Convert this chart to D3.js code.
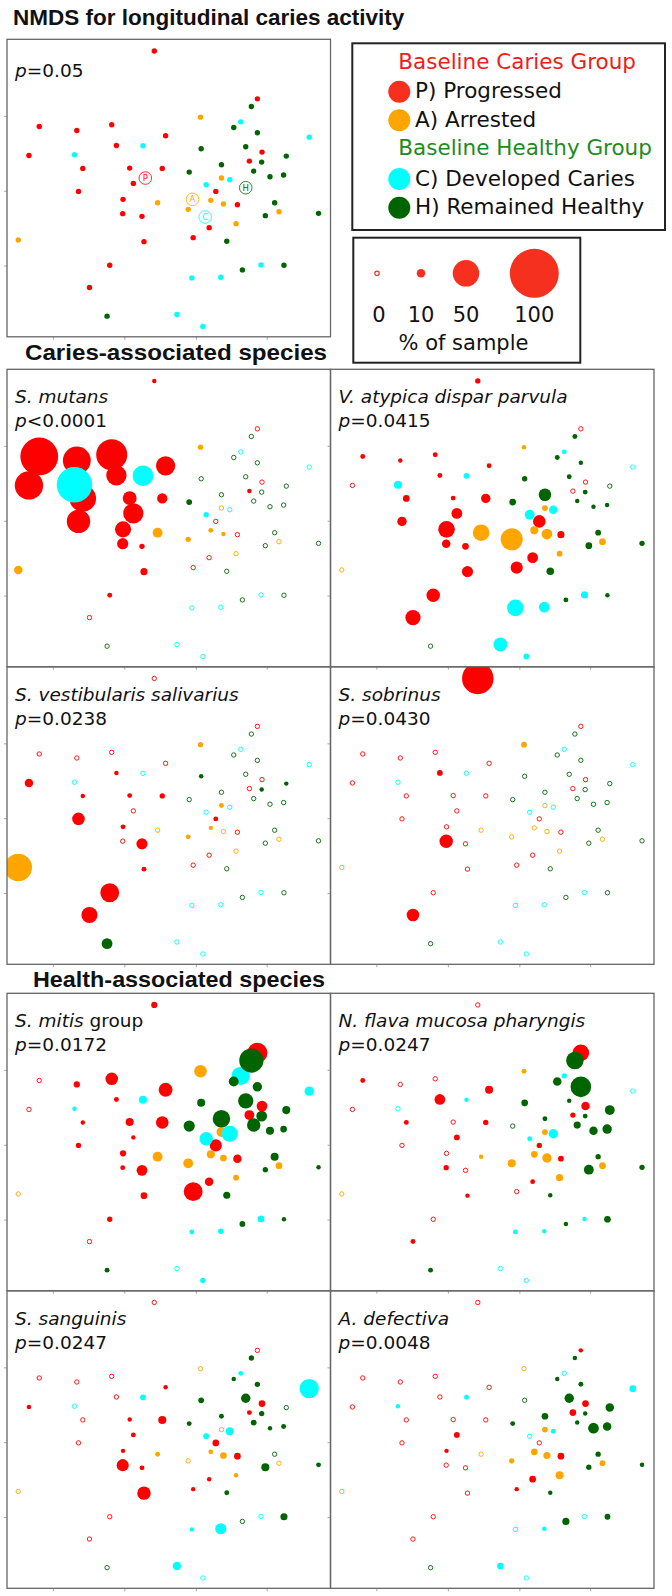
<!DOCTYPE html>
<html>
<head>
<meta charset="utf-8">
<script src="https://cdn.jsdelivr.net/npm/d3@7"></script>
<style>
body { margin: 0; background: #fff; }
svg text { font-family: "DejaVu Sans", sans-serif; fill: #111; }
svg text.heading { font-family: "Liberation Sans", Arial, sans-serif; font-weight: bold; }
</style>
</head>
<body>
<script>
(function(){

//group of each sample (P, A, C, H)
var outcome = ("PPPPPPPPPP" + "PPPPPPPPPP" + "PPPPP" +
               "AAAAAAAAA" +
               "CCCCCCCCCC" + "C" +
               "HHHHHHHHHH" + "HHHHHHHHH").split("");

//NMDS coordinates
var nmds1 = [-0.086, 0.534, -0.778, -0.552, -0.342, -0.018, -0.314, -0.84, -0.516, -0.234,
             -0.038, -0.212, -0.542, 0.562, 0.486, 0.284, -0.274, 0.414, -0.276, -0.16,
             0.244, 0.148, -0.148, -0.354, -0.476,
             0.192, 0.318, -0.066, 0.254, 0.33, 0.118, 0.664, 0.406, -0.904,
             0.434, 0.846, -0.154, -0.566, 0.226, 0.368, 0.556, 0.14, 0.314, 0.05, 0.206,
             0.498, 0.392, 0.534, 0.196, 0.464, 0.708, 0.56, 0.318, 0.124, 0.512,
             0.61, 0.692, 0.638, 0.902, 0.582, 0.35, 0.444, 0.694, -0.37];
var nmds2 = [0.824, 0.536, 0.37, 0.346, 0.38, 0.314, 0.256, 0.196, 0.118, 0.12,
             0.118, 0.028, -0.02, 0.216, 0.162, -0.02, -0.068, -0.1, -0.154, -0.17,
             -0.238, -0.298, -0.322, -0.464, -0.598,
             0.426, 0.06, -0.088, -0.074, -0.096, -0.128, -0.142, -0.214, -0.312,
             0.398, 0.306, 0.254, 0.2, 0.02, 0.05, -0.462, -0.54, -0.536, -0.76, -0.832,
             0.49, 0.364, 0.332, 0.236, 0.248, 0.192, 0.156, 0.14, 0.096, 0.102,
             0.068, 0.078, -0.088, -0.152, -0.166, -0.32, -0.492, -0.464, -0.77];

//group centroids
var groupKeys = ["P", "A", "C", "H"];
var centroid1 = [-0.14, 0.144, 0.22, 0.464];
var centroid2 = [0.06, -0.068, -0.174, 0.002];

//axis ticks (unlabelled)
var xTicks = [-0.696, -0.266, 0.164, 0.59];
var yTicks = [0.434, -0.016, -0.466];

//% of sample for each species, same sample order as above
var sMutans = [1, 0, 75, 53, 60, 34, 36, 54, 50, 22, 14, 36, 43, 0, 1, 0, 27, 0, 16, 3, 0, 0, 7, 2, 0,
               3, 0, 13, 2, 1, 3, 0, 0, 10,
               0, 0, 37, 70, 3, 0, 0, 0, 0, 0, 0,
               0, 0, 0, 0, 0, 0, 0, 0, 4, 0, 0, 0, 0, 0, 0, 0, 0, 0, 0];
var vAtypica = [3, 0, 2, 1, 2, 2, 2, 0, 6, 2, 12, 15, 12, 0, 0, 19, 28, 7, 10, 6, 15, 18, 16, 21, 25,
                1, 4, 28, 9, 15, 40, 6, 4, 0,
                2, 0, 4, 9, 13, 10, 7, 28, 15, 22, 4,
                2, 2, 1, 3, 2, 0, 2, 19, 6, 1, 1, 1, 4, 3, 6, 8, 2, 1, 0];
var sVestibularis = [0, 0, 0, 0, 0, 0, 1, 10, 1, 2, 3, 0, 19, 0, 0, 2, 2, 0, 0, 16, 0, 0, 2, 33, 27,
                     3, 2, 0, 1, 0, 2, 0, 0, 52,
                     0, 0, 0, 0, 0, 0, 0, 0, 0, 0, 0,
                     0, 0, 0, 1, 0, 1, 1, 0, 0, 0, 0, 0, 0, 0, 0, 0, 0, 0, 15];
var sSobrinus = [61, 0, 0, 0, 0, 0, 4, 0, 0, 0, 0, 0, 0, 0, 0, 0, 0, 0, 21, 0, 0, 0, 0, 0, 19,
                 4, 0, 0, 0, 0, 0, 0, 0, 0,
                 0, 0, 0, 0, 0, 0, 0, 0, 0, 0, 0,
                 0, 0, 0, 0, 0, 0, 0, 0, 0, 0, 0, 0, 0, 0, 0, 0, 0, 0, 0];
var sMitis = [5, 36, 0, 5, 19, 22, 2, 0, 1, 9, 19, 1, 3, 15, 13, 18, 5, 10, 2, 15, 10, 33, 6, 3, 0,
              19, 13, 13, 9, 6, 13, 6, 4, 0,
              32, 12, 9, 1, 21, 27, 6, 2, 3, 0, 3,
              45, 13, 12, 9, 25, 9, 15, 30, 16, 21, 9, 6, 9, 1, 3, 7, 4, 1, 2];
var nFlava = [0, 28, 2, 0, 0, 9, 15, 0, 2, 0, 3, 4, 0, 10, 3, 3, 0, 4, 3, 0, 2, 0, 1, 0, 2,
              2, 4, 1, 6, 12, 9, 6, 7, 0,
              3, 0, 1, 0, 2, 12, 1, 2, 1, 0, 0,
              30, 10, 37, 6, 1, 13, 2, 2, 0, 7, 10, 12, 3, 3, 13, 1, 1, 6, 2];
var sSanguinis = [0, 0, 0, 0, 0, 1, 0, 1, 0, 1, 9, 2, 0, 6, 2, 6, 1, 6, 18, 2, 1, 1, 21, 0, 0,
                  0, 0, 2, 2, 6, 0, 0, 1, 0,
                  2, 34, 4, 0, 4, 9, 0, 1, 16, 10, 0,
                  3, 1, 3, 4, 12, 0, 3, 2, 2, 4, 1, 2, 0, 2, 9, 2, 0, 7, 0];
var aDefectiva = [0, 1, 0, 0, 0, 0, 0, 0, 0, 0, 0, 4, 0, 6, 6, 0, 1, 6, 0, 0, 6, 1, 0, 0, 0,
                  0, 4, 0, 6, 7, 3, 4, 9, 0,
                  0, 6, 2, 1, 0, 2, 0, 0, 1, 6, 0,
                  1, 1, 2, 0, 12, 10, 1, 6, 2, 1, 15, 10, 3, 1, 3, 1, 7, 4, 0];

var speciesValues = [sMutans, vAtypica, sVestibularis, sSobrinus, sMitis, nFlava, sSanguinis, aDefectiva];
var speciesNames = ["S. mutans", "V. atypica dispar parvula", "S. vestibularis salivarius", "S. sobrinus",
                    "S. mitis", "N. flava mucosa pharyngis", "S. sanguinis", "A. defectiva"];
var speciesSuffix = ["", "", "", "", " group", "", "", ""];
var speciesP = ["<0.0001", "=0.0415", "=0.0238", "=0.0430", "=0.0172", "=0.0247", "=0.0247", "=0.0048"];
var overallP = "=0.05";

//legend text
var legendHeads = ["Baseline Caries Group", "Baseline Healthy Group"];
var legendLabels = ["P) Progressed", "A) Arrested", "C) Developed Caries", "H) Remained Healthy"];
var sizeValues = [0, 10, 50, 100];

//page layout
var panelW = 323.5,
    panelH = 297.5;

var svg = d3.select("body")
    .append("svg")
    .attr("width", 672)
    .attr("height", 1596)
    .style("display", "block");

//scales shared by all panels
var xScale = d3.scaleLinear()
    .domain([-0.972, 0.974])
    .range([0, panelW]);
var yScale = d3.scaleLinear()
    .domain([-0.894, 0.894])
    .range([panelH, 0]);
var rScale = d3.scaleLinear()
    .domain([0, 100])
    .range([2, 24.5]);
var colorScale = d3.scaleOrdinal()
    .domain(groupKeys)
    .range(["#ff0000", "#ffa500", "#00ffff", "#006400"]);
var legendRed = "#f5301f";

//titles
svg.append("text")
    .attr("class", "heading")
    .attr("x", 13)
    .attr("y", 24.5)
    .style("font-size", "22.5px")
    .text("NMDS for longitudinal caries activity");

svg.append("text")
    .attr("class", "heading")
    .attr("x", 25)
    .attr("y", 359.5)
    .attr("textLength", 302)
    .attr("lengthAdjust", "spacingAndGlyphs")
    .style("font-size", "22.5px")
    .text("Caries-associated species");

svg.append("text")
    .attr("class", "heading")
    .attr("x", 33)
    .attr("y", 987)
    .attr("textLength", 292)
    .attr("lengthAdjust", "spacingAndGlyphs")
    .style("font-size", "22.5px")
    .text("Health-associated species");

//build one framed plot panel
function makePanel(left, top, clipId){
    var g = svg.append("g")
        .attr("transform", "translate(" + left + "," + top + ")");

    g.append("clipPath")
        .attr("id", clipId)
        .append("rect")
        .attr("width", panelW)
        .attr("height", panelH);

    //small unlabelled ticks like the R plot
    g.append("g")
        .attr("class", "ticks")
        .attr("transform", "translate(0," + panelH + ")")
        .call(d3.axisBottom(xScale).tickValues(xTicks).tickSize(3).tickSizeOuter(0).tickFormat(""));
    g.append("g")
        .attr("class", "ticks")
        .call(d3.axisLeft(yScale).tickValues(yTicks).tickSize(3).tickSizeOuter(0).tickFormat(""));
    g.selectAll(".ticks .domain").remove();
    g.selectAll(".ticks line").attr("stroke", "#aaa");

    var plot = g.append("g")
        .attr("clip-path", "url(#" + clipId + ")");

    g.append("rect")
        .attr("width", panelW)
        .attr("height", panelH)
        .attr("fill", "none")
        .attr("stroke", "#666")
        .attr("stroke-width", 1.3);

    return {g: g, plot: plot};
};

function addPLabel(g, y, pText){
    var t = g.append("text")
        .attr("x", 8)
        .attr("y", y)
        .style("font-size", "18.5px");
    t.append("tspan").style("font-style", "italic").text("p");
    t.append("tspan").text(pText);
};

//overview panel
var overview = makePanel(7, 39.3, "clip-overview");

overview.plot.selectAll(".pt")
    .data(d3.range(nmds1.length))
    .enter()
    .append("circle")
    .attr("class", "pt")
    .attr("cx", function(i){ return xScale(nmds1[i]); })
    .attr("cy", function(i){ return yScale(nmds2[i]); })
    .attr("r", 2.7)
    .attr("fill", function(i){ return colorScale(outcome[i]); });

var cents = overview.plot.selectAll(".centroid")
    .data(groupKeys)
    .enter()
    .append("g")
    .attr("class", "centroid")
    .attr("transform", function(d, i){
        return "translate(" + xScale(centroid1[i]) + "," + yScale(centroid2[i]) + ")";
    });
cents.append("circle")
    .attr("r", 6.3)
    .attr("fill", "#fff")
    .attr("stroke", function(d){ return colorScale(d); })
    .attr("stroke-width", 0.8);
cents.append("text")
    .attr("text-anchor", "middle")
    .attr("dy", "0.36em")
    .style("font-size", "8.5px")
    .style("fill", function(d){ return colorScale(d); })
    .text(function(d){ return d; });

addPLabel(overview.g, 37.5, overallP);

//species panels: two 2x2 grids
var gridTops = [369.3, 993.3];
var colLefts = [7, 330.5];

speciesValues.forEach(function(vals, s){
    var grid = Math.floor(s / 4),
        k = s % 4,
        left = colLefts[k % 2],
        top = gridTops[grid] + Math.floor(k / 2) * panelH;

    var panel = makePanel(left, top, "clip-sp" + s);

    panel.plot.selectAll(".pt")
        .data(d3.range(vals.length))
        .enter()
        .append("circle")
        .attr("class", "pt")
        .attr("cx", function(i){ return xScale(nmds1[i]); })
        .attr("cy", function(i){ return yScale(nmds2[i]); })
        .attr("r", function(i){ return vals[i] > 0 ? rScale(vals[i]) : 2.2; })
        .attr("fill", function(i){ return vals[i] > 0 ? colorScale(outcome[i]) : "none"; })
        .attr("stroke", function(i){ return vals[i] > 0 ? "none" : colorScale(outcome[i]); })
        .attr("stroke-width", 0.9);

    var name = panel.g.append("text")
        .attr("x", 8)
        .attr("y", 34)
        .style("font-size", "18.5px");
    name.append("tspan").style("font-style", "italic").text(speciesNames[s]);
    if (speciesSuffix[s]){
        name.append("tspan").text(speciesSuffix[s]);
    };

    addPLabel(panel.g, 58, speciesP[s]);
});

//group legend
var legend = svg.append("g");
legend.append("rect")
    .attr("x", 352.3)
    .attr("y", 43.3)
    .attr("width", 312.7)
    .attr("height", 186.7)
    .attr("fill", "#fff")
    .attr("stroke", "#222")
    .attr("stroke-width", 2);

var headColors = ["#ee1c1c", "#1f8a1f"];
var headY = [69.3, 155];
legendHeads.forEach(function(h, i){
    legend.append("text")
        .attr("x", 398.3)
        .attr("y", headY[i])
        .style("font-size", "21.5px")
        .style("fill", headColors[i])
        .text(h);
});

var rowY = [98.3, 126.7, 185.5, 214.3];
var rows = legend.selectAll(".lrow")
    .data(groupKeys)
    .enter()
    .append("g")
    .attr("class", "lrow")
    .attr("transform", function(d, i){ return "translate(0," + rowY[i] + ")"; });
rows.append("circle")
    .attr("cx", 399.3)
    .attr("cy", -6.5)
    .attr("r", 11)
    .attr("fill", function(d){ return d == "P" ? legendRed : colorScale(d); });
rows.append("text")
    .attr("x", 415)
    .attr("y", 0)
    .style("font-size", "21.5px")
    .text(function(d, i){ return legendLabels[i]; });

//size legend
var sizeLegend = svg.append("g");
sizeLegend.append("rect")
    .attr("x", 353.3)
    .attr("y", 237.7)
    .attr("width", 227)
    .attr("height", 125)
    .attr("fill", "#fff")
    .attr("stroke", "#222")
    .attr("stroke-width", 2);

var sizeX = [377, 421, 466, 534.3];
sizeLegend.selectAll(".sz")
    .data(sizeValues)
    .enter()
    .append("circle")
    .attr("class", "sz")
    .attr("cx", function(d, i){ return sizeX[i]; })
    .attr("cy", 273.3)
    .attr("r", function(d){ return d > 0 ? rScale(d) : 2.2; })
    .attr("fill", function(d){ return d > 0 ? legendRed : "none"; })
    .attr("stroke", function(d){ return d > 0 ? "none" : legendRed; })
    .attr("stroke-width", 1.2);
sizeLegend.selectAll(".szlab")
    .data(sizeValues)
    .enter()
    .append("text")
    .attr("class", "szlab")
    .attr("x", function(d, i){ return sizeX[i] + (i == 0 ? 2 : 0); })
    .attr("y", 321.7)
    .attr("text-anchor", "middle")
    .style("font-size", "21px")
    .text(function(d){ return d; });
sizeLegend.append("text")
    .attr("x", 463.5)
    .attr("y", 350)
    .attr("text-anchor", "middle")
    .style("font-size", "21px")
    .text("% of sample");

})();
</script>
</body>
</html>
